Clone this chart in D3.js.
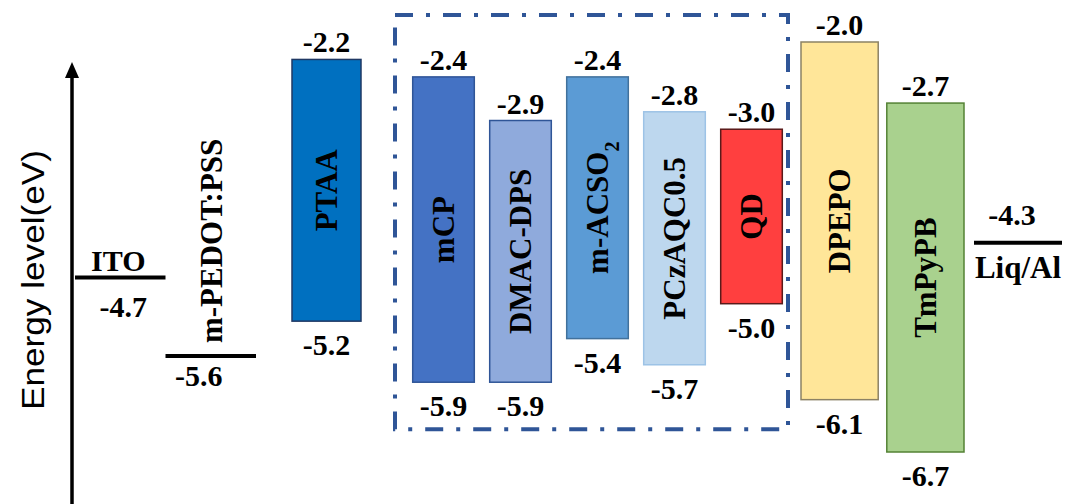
<!DOCTYPE html>
<html>
<head>
<meta charset="utf-8">
<script src="https://cdn.jsdelivr.net/npm/d3@7"></script>
<style>
  body { margin: 0; background: #fff; }
  svg { display: block; }
  .num { font-family: "Liberation Serif", "Times New Roman", serif; font-weight: bold; font-size: 30px; fill: #000; }
  .name { font-family: "Liberation Serif", "Times New Roman", serif; font-weight: bold; font-size: 31px; fill: #000; }
</style>
</head>
<body>
<div id="chart"></div>
<script>
// energy levels (eV)
var layerNames = ["PTAA", "mCP", "DMAC-DPS", "m-ACSO2", "PCzAQC0.5", "QD", "DPEPO", "TmPyPB"];
var lumo = [-2.2, -2.4, -2.9, -2.4, -2.8, -3.0, -2.0, -2.7];
var homo = [-5.2, -5.9, -5.9, -5.4, -5.7, -5.0, -6.1, -6.7];
var layerFills = ["#0070c0", "#4472c4", "#8faadc", "#5b9bd5", "#bdd7ee", "#ff3f3f", "#ffe699", "#a9d18e"];
var layerStrokes = ["#1f3864", "#2f5597", "#2f5597", "#41719c", "#9dc3e6", "#5a1a1a", "#8c8264", "#548235"];

var leftElectrodes = ["ITO", "m-PEDOT:PSS"];
var leftLevels = [-4.7, -5.6];
var rightElectrodes = ["Liq/Al"];
var rightLevels = [-4.3];

// layer groups: hole side, the dash-dot boxed stack, electron side
var htl = ["PTAA"];
var boxed = ["mCP", "DMAC-DPS", "m-ACSO2", "PCzAQC0.5", "QD"];
var etl = ["DPEPO", "TmPyPB"];

var width = 1070, height = 504;

var svg = d3.select("#chart")
    .append("svg")
    .attr("width", width)
    .attr("height", height);

var y = d3.scaleLinear()
    .domain([-2.0, -6.7])
    .range([42, 452]);

var xHtl = d3.scaleBand().domain(htl).range([292, 361]);
var xBox = d3.scaleBand().domain(boxed).range([405, 790]).paddingInner(0.2).paddingOuter(0.1);
var xEtl = d3.scaleBand().domain(etl).range([801, 964]).paddingInner(0.1);

function xScaleOf(name) {
    if (htl.indexOf(name) >= 0) return xHtl;
    if (boxed.indexOf(name) >= 0) return xBox;
    return xEtl;
}

var xLeft = d3.scaleBand().domain(leftElectrodes).range([75, 256]);
var xRight = d3.scaleBand().domain(rightElectrodes).range([974, 1062]);

// dash-dot box round the emitting stack
var boxL = xBox.range()[0] - 10, boxR = xBox.range()[1] - 2;
var boxT = y(-2.0) - 27, boxB = y(-5.9) + 47;
svg.append("rect")
    .attr("x", boxL)
    .attr("y", boxT)
    .attr("width", boxR - boxL)
    .attr("height", boxB - boxT)
    .attr("fill", "none")
    .attr("stroke", "#2f5597")
    .attr("stroke-width", 4)
    .attr("stroke-dasharray", "18,13,4,13");

// axis arrow
svg.append("line")
    .attr("x1", 72).attr("x2", 72)
    .attr("y1", height).attr("y2", 74)
    .attr("stroke", "#000")
    .attr("stroke-width", 3.5);
svg.append("path")
    .attr("d", "M72,62 L65,78 L79,78 Z")
    .attr("fill", "#000");

svg.append("text")
    .attr("transform", "translate(44,280) rotate(-90)")
    .attr("text-anchor", "middle")
    .attr("textLength", 260)
    .attr("lengthAdjust", "spacingAndGlyphs")
    .style("font-family", "'Liberation Sans', Arial, sans-serif")
    .style("font-size", "32px")
    .text("Energy level(eV)");

// layer bars
var layers = layerNames.map(function(n, i) {
    var xs = xScaleOf(n);
    return { name: n, lumo: lumo[i], homo: homo[i], fill: layerFills[i], stroke: layerStrokes[i],
             x0: xs(n), w: xs.bandwidth() };
});

var g = svg.selectAll(".layer")
    .data(layers)
    .enter()
    .append("g")
    .attr("class", "layer");

g.append("rect")
    .attr("x", function(d) { return d.x0; })
    .attr("y", function(d) { return y(d.lumo); })
    .attr("width", function(d) { return d.w; })
    .attr("height", function(d) { return y(d.homo) - y(d.lumo); })
    .attr("fill", function(d) { return d.fill; })
    .attr("stroke", function(d) { return d.stroke; })
    .attr("stroke-width", 1.5);

g.append("text")
    .attr("class", "num")
    .attr("x", function(d) { return d.x0 + d.w / 2; })
    .attr("y", function(d) { return y(d.lumo) - 7; })
    .attr("text-anchor", "middle")
    .text(function(d) { return d.lumo.toFixed(1); });

g.append("text")
    .attr("class", "num")
    .attr("x", function(d) { return d.x0 + d.w / 2; })
    .attr("y", function(d) { return y(d.homo) + 34; })
    .attr("text-anchor", "middle")
    .text(function(d) { return d.homo.toFixed(1); });

var names = g.append("text")
    .attr("class", "name")
    .attr("transform", function(d) {
        var cx = d.x0 + d.w / 2;
        var cy = (y(d.lumo) + y(d.homo)) / 2;
        return "translate(" + cx + "," + cy + ") rotate(-90)";
    })
    .attr("text-anchor", "middle")
    .attr("dy", "0.35em");

names.each(function(d) {
    var t = d3.select(this);
    if (d.name === "m-ACSO2") {
        t.append("tspan").text("m-ACSO");
        t.append("tspan")
            .attr("baseline-shift", "sub")
            .style("font-size", "20px")
            .text("2");
    } else {
        t.text(d.name);
    }
});

// electrode levels (single lines)
function drawLine(xs, name, level) {
    svg.append("line")
        .attr("x1", xs(name))
        .attr("x2", xs(name) + xs.bandwidth())
        .attr("y1", y(level)).attr("y2", y(level))
        .attr("stroke", "#000")
        .attr("stroke-width", 4);
}

leftElectrodes.forEach(function(n, i) { drawLine(xLeft, n, leftLevels[i]); });
rightElectrodes.forEach(function(n, i) { drawLine(xRight, n, rightLevels[i]); });

// ITO: name above, value below
var cITO = xLeft("ITO") + xLeft.bandwidth() / 2;
svg.append("text").attr("class", "name")
    .attr("x", cITO - 2).attr("y", y(leftLevels[0]) - 7)
    .attr("text-anchor", "middle").style("font-size", "30px")
    .text("ITO");
svg.append("text").attr("class", "num")
    .attr("x", cITO + 3).attr("y", y(leftLevels[0]) + 39)
    .attr("text-anchor", "middle")
    .text(leftLevels[0].toFixed(1));

// m-PEDOT:PSS: rotated name above, value below
var cPED = xLeft("m-PEDOT:PSS") + xLeft.bandwidth() / 2;
svg.append("text").attr("class", "name")
    .attr("transform", "translate(" + cPED + "," + (y(leftLevels[1]) - 13) + ") rotate(-90)")
    .attr("text-anchor", "start")
    .attr("dy", "0.35em")
    .text("m-PEDOT:PSS");
svg.append("text").attr("class", "num")
    .attr("x", cPED - 12).attr("y", y(leftLevels[1]) + 30)
    .attr("text-anchor", "middle")
    .text(leftLevels[1].toFixed(1));

// Liq/Al: value above, name below
var cLiq = xRight("Liq/Al") + xRight.bandwidth() / 2;
svg.append("text").attr("class", "num")
    .attr("x", cLiq - 6).attr("y", y(rightLevels[0]) - 18)
    .attr("text-anchor", "middle")
    .text(rightLevels[0].toFixed(1));
svg.append("text").attr("class", "name")
    .attr("x", cLiq).attr("y", y(rightLevels[0]) + 35)
    .attr("text-anchor", "middle")
    .text("Liq/Al");
</script>
</body>
</html>
